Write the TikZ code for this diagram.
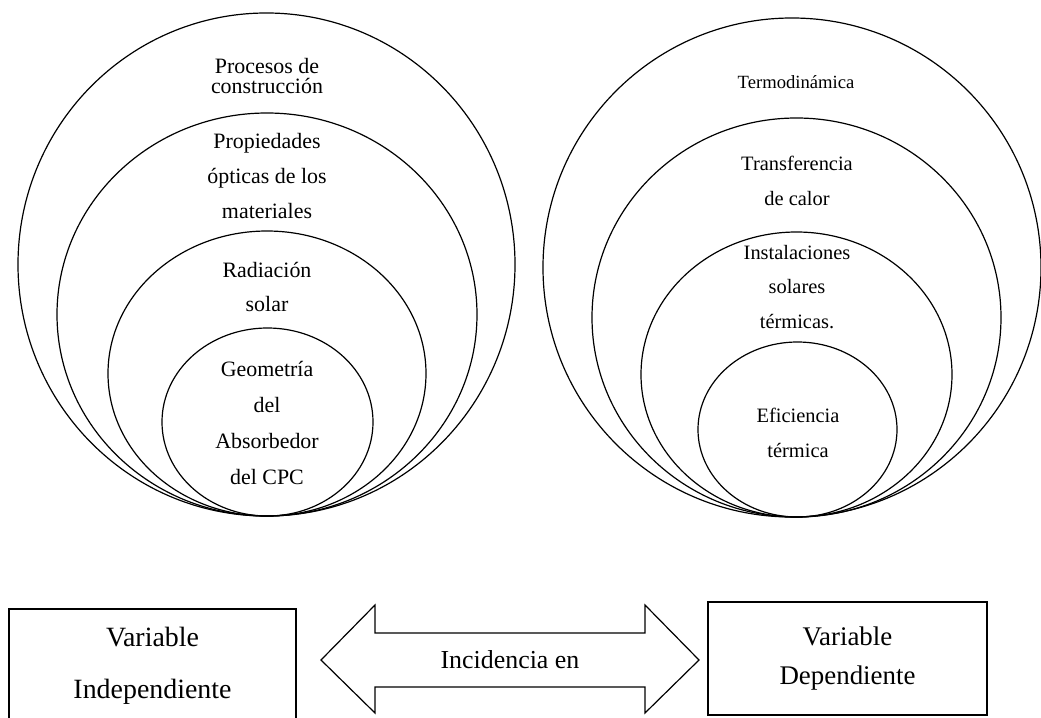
\documentclass[tikz,border=0pt]{standalone}
\usepackage{fontspec}
\setmainfont{Liberation Serif}
\usetikzlibrary{positioning}

\begin{document}
\begin{tikzpicture}[x=1bp, y=-1bp, line width=1.2bp,
    ring/.style={draw, line width=1.2bp},
    lefttxt/.style={align=center, inner sep=0pt, font=\fontsize{22}{35}\selectfont},
    righttxt/.style={align=center, inner sep=0pt, font=\fontsize{20.5}{35}\selectfont},
    varbox/.style={draw, align=center, minimum height=113bp, font=\fontsize{28}{52}\selectfont}]
        \useasboundingbox (0,0) rectangle (1041,718);
        % left group
        \draw (266.5,264.5) ellipse [x radius=248.5bp, y radius=251.5bp];
        \draw (267,314.5) ellipse [x radius=210bp, y radius=201.5bp];
        \draw (267,373.5) ellipse [x radius=159bp, y radius=142.5bp];
        \draw (267.5,422) ellipse [x radius=105.5bp, y radius=94bp];
        \node[lefttxt, font=\fontsize{22}{21}\selectfont] (proc) at (267,76) {Procesos de\\construcción};
        \node[lefttxt] (prop) at (267,176) {Propiedades\\ópticas de los\\materiales};
        \node[lefttxt] (rad) at (267,287) {Radiación\\solar};
        \node[lefttxt, font=\fontsize{22}{36}\selectfont] (geo) at (267,423) {Geometría\\del\\Absorbedor\\del CPC};
        % right group
        \draw (792,267.5) ellipse [x radius=249bp, y radius=249.5bp];
        \draw (796.5,317.5) ellipse [x radius=204.5bp, y radius=199.5bp];
        \draw (796.5,374.5) ellipse [x radius=155.5bp, y radius=142.5bp];
        \draw (797.5,429.5) ellipse [x radius=99.5bp, y radius=87.5bp];
        \node[righttxt, font=\fontsize{18.7}{22}\selectfont] (termo) at (796,82) {Termodinámica};
        \node[righttxt] (trans) at (797,181) {Transferencia\\de calor};
        \node[righttxt] (inst) at (797,287) {Instalaciones\\solares\\térmicas.};
        \node[righttxt] (efic) at (798,433) {Eficiencia\\térmica};
        % bottom row
        \node[varbox, minimum width=287bp] (indep) at (152.5,665.5) {Variable\\Independiente};
        \node[varbox, minimum width=279bp, font=\fontsize{27}{39}\selectfont] (dep) at (847.5,658.5) {Variable\\Dependiente};
        \draw (321,660) -- (375,605) -- (375,633) -- (645,633) -- (645,605) -- (699,660)
            -- (645,713) -- (645,687) -- (375,687) -- (375,713) -- cycle;
        \node[font=\fontsize{26}{30}\selectfont] (incid) at (510,660) {Incidencia en};
\end{tikzpicture}
\end{document}
